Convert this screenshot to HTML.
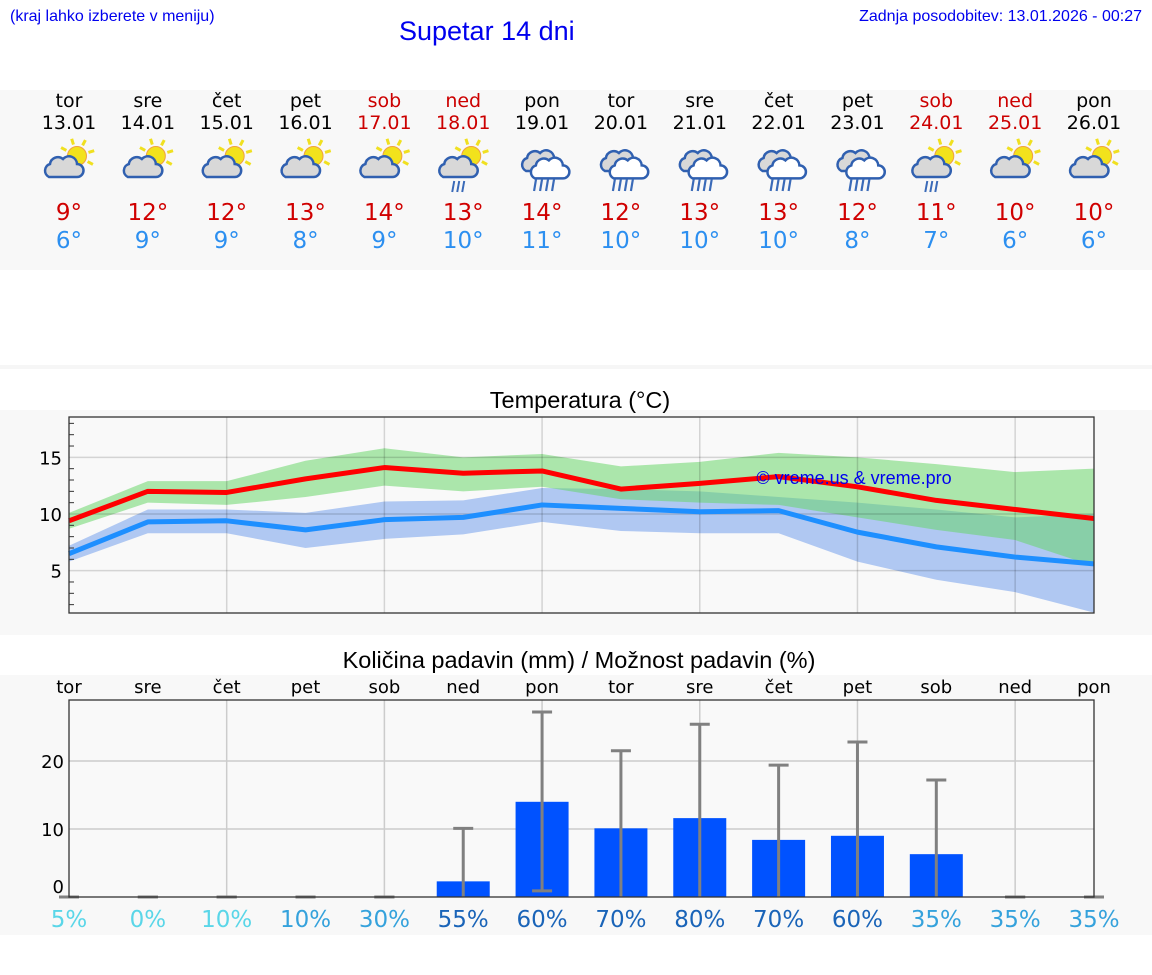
<!DOCTYPE html>
<html><head><meta charset="utf-8"><style>
body{margin:0;background:#fff;width:1152px;height:975px;overflow:hidden}
svg{display:block}
text{font-family:"DejaVu Sans","Liberation Sans",sans-serif}
.ls{font-family:"Liberation Sans",sans-serif}
</style></head><body>
<svg id="s" width="1152" height="975" xmlns="http://www.w3.org/2000/svg">
<rect x="0" y="90" width="1152" height="180" fill="#f8f8f8"/>
<rect x="0" y="365" width="1152" height="4" fill="#f6f6f6"/>
<rect x="0" y="410" width="1152" height="225" fill="#f8f8f8"/>
<rect x="0" y="675" width="1152" height="260" fill="#f8f8f8"/>
<text class="ls" x="10" y="21" font-size="16" fill="#0000ee">(kraj lahko izberete v meniju)</text>
<text class="ls" x="399" y="40" font-size="27" fill="#0000ee">Supetar 14 dni</text>
<text class="ls" x="1142" y="21" font-size="16" fill="#0000ee" text-anchor="end">Zadnja posodobitev: 13.01.2026 - 00:27</text>
<text class="ls" x="580" y="408" font-size="23.5" text-anchor="middle">Temperatura (°C)</text>
<text class="ls" x="579" y="668" font-size="23.5" text-anchor="middle">Količina padavin (mm) / Možnost padavin (%)</text>
<g id="hdr"></g><g id="temp"></g><g id="prec"></g>
</svg>
<script>
const dayNames=["tor","sre","čet","pet","sob","ned","pon","tor","sre","čet","pet","sob","ned","pon"];
const dates=["13.01","14.01","15.01","16.01","17.01","18.01","19.01","20.01","21.01","22.01","23.01","24.01","25.01","26.01"];
const weekend=[0,0,0,0,1,1,0,0,0,0,0,1,1,0];
const icons=["sc","sc","sc","sc","sc","scr","cr","cr","cr","cr","cr","scr","sc","sc"];
const maxT=[9,12,12,13,14,13,14,12,13,13,12,11,10,10];
const minT=[6,9,9,8,9,10,11,10,10,10,8,7,6,6];
const maxLine=[9.4,12.0,11.9,13.1,14.1,13.6,13.8,12.2,12.7,13.3,12.4,11.2,10.4,9.6];
const maxUpper=[10.1,12.9,12.9,14.7,15.8,15.0,15.3,14.2,14.6,15.4,15.0,14.4,13.7,14.0];
const maxLower=[8.7,11.0,10.8,11.5,12.5,12.0,12.4,11.3,11.0,10.8,9.7,8.6,7.7,5.4];
const minLine=[6.5,9.3,9.4,8.6,9.5,9.7,10.8,10.5,10.2,10.3,8.4,7.1,6.2,5.6];
const minUpper=[7.2,10.4,10.4,10.1,11.1,11.2,12.3,12.2,12.0,11.5,11.0,10.4,9.7,10.0];
const minLower=[5.8,8.3,8.3,7.0,7.8,8.2,9.3,8.5,8.3,8.3,5.8,4.2,3.1,1.3];
const tempTicks=[5,10,15];
const precip=[0,0,0,0,0,2.3,14,10.1,11.6,8.4,9.0,6.3,0,0];
const precipHi=[0,0,0,0,0,10.1,27.2,21.5,25.4,19.4,22.8,17.2,0,0];
const precipLo=[0,0,0,0,0,0,0.9,0,0,0,0,0,0,0];
const chance=[5,0,10,10,30,55,60,70,80,70,60,35,35,35];
const chanceLevel=[0,0,0,1,1,2,2,2,2,2,2,1,1,1];
const precipTicks=[0,10,20];
const NS="http://www.w3.org/2000/svg";
function mk(p,t,a){const e=document.createElementNS(NS,t);for(const k in a)e.setAttribute(k,a[k]);p.appendChild(e);return e;}
const X0=69,X1=1094,N=14;
const xd=i=>X0+i*(X1-X0)/(N-1);
const yT=v=>514-(v-10)*11.33;
const yP=v=>897-v*6.8;
const hdr=document.getElementById('hdr');
function cloud(g,x,y,s,fill,stroke){
 return mk(g,'path',{d:`M${x-14*s},${y+8*s} a7,7 0 0 1 1,-13 a8,8 0 0 1 13,-5 a8,8 0 0 1 14,5 a6,6 0 0 1 0,13 z`,fill:fill,stroke:stroke,'stroke-width':2.5});}
for(let i=0;i<N;i++){
 const x=xd(i),col=weekend[i]?"#cc0000":"#000";
 let t=mk(hdr,'text',{x:x,y:107,'font-size':19,'text-anchor':'middle',fill:col});t.textContent=dayNames[i];
 
 
 t=mk(hdr,'text',{x:x,y:129,'font-size':19,'text-anchor':'middle',fill:col});t.textContent=dates[i];
 
 
 const g=mk(hdr,'g',{});
 
 
 const ic=icons[i];
 if(ic!=="cr"){
  const sx=x+8,sy=156;
  for(let k=0;k<8;k++){const a=k*Math.PI/4-0.3;mk(g,'line',{x1:sx+Math.cos(a)*12,y1:sy+Math.sin(a)*12,x2:sx+Math.cos(a)*18,y2:sy+Math.sin(a)*18,stroke:'#f0e020','stroke-width':3});}
  mk(g,'circle',{cx:sx,cy:sy,r:9.5,fill:'#f2e21c',stroke:'#f0a040','stroke-width':1});
  cloud(g,x-6,169,1,'#d8d8d8','#3060b0');
  if(ic==="scr"){for(let k=0;k<3;k++)mk(g,'line',{x1:x-9+k*5,y1:181,x2:x-11+k*5,y2:192,stroke:'#3a6ab8','stroke-width':2});}
 } else {
  cloud(g,x-2,163,1,'#d8d8d8','#3060b0');
  cloud(g,x+4,172,0.8,'#fff','#3060b0');
  for(let k=0;k<4;k++)mk(g,'line',{x1:x-6+k*6,y1:179,x2:x-8+k*6,y2:191,stroke:'#3a6ab8','stroke-width':2.2});
 }
 t=mk(hdr,'text',{x:x,y:220,'font-size':23,'text-anchor':'middle',fill:'#d00000'});t.textContent=maxT[i]+"°";
 
 
 t=mk(hdr,'text',{x:x,y:248,'font-size':23,'text-anchor':'middle',fill:'#2c8ff0'});t.textContent=minT[i]+"°";
 
 
}
const tg=document.getElementById('temp');
let r=mk(tg,'rect',{x:X0,y:417,width:X1-X0,height:196,fill:'#f9f9f9'});


function band(up,lo,fill,name){let d="";up.forEach((v,i)=>d+=(i?"L":"M")+xd(i)+","+yT(v));for(let i=N-1;i>=0;i--)d+="L"+xd(i)+","+yT(lo[i]);
 const p=mk(tg,'path',{d:d+"Z",fill:fill});
 
 }
function line(vals,col,name){const p=mk(tg,'polyline',{points:vals.map((v,i)=>xd(i)+","+yT(v)).join(" "),fill:'none',stroke:col,'stroke-width':5,'stroke-linejoin':'round'});
 
 }
band(minUpper,minLower,'#b0c8f2','min-temp-range');
band(maxUpper,maxLower,'rgba(100,212,100,0.52)','max-temp-range');
for(let i=2;i<N;i+=2){const l=mk(tg,'line',{x1:xd(i),x2:xd(i),y1:417,y2:613,stroke:'rgba(0,0,0,0.15)','stroke-width':1.5});
 
 }
tempTicks.forEach(v=>{const l=mk(tg,'line',{x1:X0,x2:X1,y1:yT(v),y2:yT(v),stroke:'rgba(0,0,0,0.15)','stroke-width':1.5});
 
 
 const t=mk(tg,'text',{x:62,y:yT(v)+7,'font-size':18,'text-anchor':'end'});t.textContent=v;
 
 });
for(let v=2;v<=18;v++){if(v%5)mk(tg,'line',{x1:X0,x2:X0+5,y1:yT(v),y2:yT(v),stroke:'#333','stroke-width':1});}
line(maxLine,'#ff0000','max-temp-line');
line(minLine,'#1e8fff','min-temp-line');
let t=mk(tg,'text',{x:854,y:484,'font-size':18,'text-anchor':'middle',fill:'#0000ee',class:'ls'});t.textContent="© vreme.us & vreme.pro";


mk(tg,'rect',{x:X0,y:417,width:X1-X0,height:196,fill:'none',stroke:'#333','stroke-width':1.3});
const pg=document.getElementById('prec');
r=mk(pg,'rect',{x:X0,y:700,width:X1-X0,height:197,fill:'#f9f9f9'});


for(let i=2;i<N;i+=2){const l=mk(pg,'line',{x1:xd(i),x2:xd(i),y1:700,y2:897,stroke:'#ccc','stroke-width':1.5});
 
 }
precipTicks.forEach(v=>{if(v>0){const l=mk(pg,'line',{x1:X0,x2:X1,y1:yP(v),y2:yP(v),stroke:'#ccc','stroke-width':1.5});
 
 }
 const t=mk(pg,'text',{x:64,y:yP(v)+(v?7:-4),'font-size':18,'text-anchor':'end'});t.textContent=v;
 
 });
const pcols=['#5ad6e8','#35a2dc','#1a64b8'];
for(let i=0;i<N;i++){
 const x=xd(i);
 let tt=mk(pg,'text',{x:x,y:693,'font-size':18,'text-anchor':'middle'});tt.textContent=dayNames[i];
 
 
 if(precip[i]>0){const b=mk(pg,'rect',{x:x-26.5,y:yP(precip[i]),width:53,height:yP(0)-yP(precip[i]),fill:'#0052ff'});
  
  }
 const e=mk(pg,'g',{stroke:'#808080','stroke-width':3});
 
 
 mk(e,'line',{x1:x,x2:x,y1:yP(precipHi[i]),y2:yP(precipLo[i])});
 mk(e,'line',{x1:x-10,x2:x+10,y1:yP(precipHi[i]),y2:yP(precipHi[i])});
 if(precipLo[i]>0||precipHi[i]==0)mk(e,'line',{x1:x-10,x2:x+10,y1:yP(precipLo[i]),y2:yP(precipLo[i])});
 tt=mk(pg,'text',{x:x,y:927,'font-size':23,'text-anchor':'middle',fill:pcols[chanceLevel[i]]});tt.textContent=chance[i]+"%";
 
 
}
mk(pg,'rect',{x:X0,y:700,width:X1-X0,height:197,fill:'none',stroke:'#333','stroke-width':1.3});
</script>
</body></html>
